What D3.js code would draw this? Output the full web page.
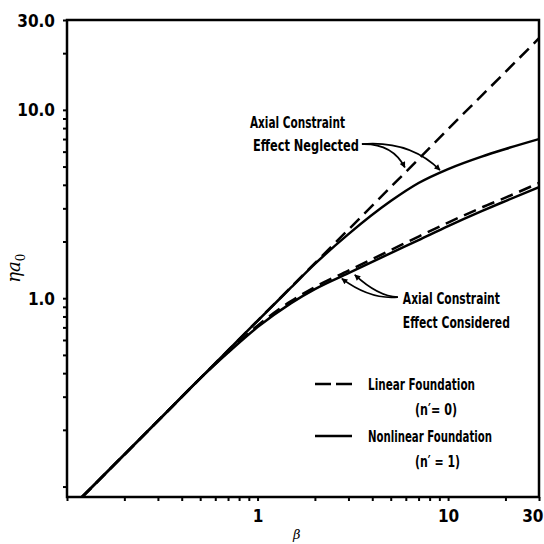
<!DOCTYPE html>
<html>
<head>
<meta charset="utf-8">
<script src="https://cdn.jsdelivr.net/npm/d3@7"></script>
<style>
  html, body { margin: 0; padding: 0; background: #fff; }
  svg { display: block; }
  .lbl { font-family: "Liberation Sans Narrow", "DejaVu Sans Condensed", "Roboto Condensed", sans-serif; font-weight: bold; fill: #000; }
</style>
</head>
<body>
<svg id="chart" width="544" height="544"></svg>
<script>
// ---- data ----
const beta = [0.12, 0.3, 0.5, 0.7, 1, 1.5, 2, 3, 5, 7, 10, 15, 20, 30];
const linearNeglected     = [0.088, 0.223, 0.375, 0.528, 0.759, 1.146, 1.535, 2.314, 3.89, 5.48, 7.91, 11.9, 15.9, 24.0];
const nonlinearNeglected  = [0.088, 0.223, 0.375, 0.528, 0.759, 1.14, 1.52, 2.19, 3.28, 4.09, 4.85, 5.65, 6.2, 7.0];
const linearConsidered    = [0.088, 0.223, 0.375, 0.518, 0.715, 0.965, 1.146, 1.402, 1.80, 2.125, 2.52, 3.03, 3.42, 4.09];
const nonlinearConsidered = [0.088, 0.223, 0.375, 0.514, 0.702, 0.942, 1.118, 1.36, 1.736, 2.035, 2.415, 2.90, 3.28, 3.89];

const xTickValues = [0.1,0.2,0.3,0.4,0.5,0.6,0.7,0.8,0.9,1,2,3,4,5,6,7,8,9,10,20,30];
const xTickLabels = {1: "1", 10: "10", 30: "30"};
const yTickValues = [0.1,0.2,0.3,0.4,0.5,0.6,0.7,0.8,0.9,1,2,3,4,5,6,7,8,9,10,20,30];
const yTickLabels = {1: "1.0", 10: "10.0", 30: "30.0"};

const xDomain = [0.1, 30];
const yDomain = [0.088, 30];

const legendItems = [
  {label: "Linear Foundation", sub: "(n\u2032= 0)", dashed: true},
  {label: "Nonlinear Foundation", sub: "(n\u2032 = 1)", dashed: false}
];

// ---- layout ----
const svg = d3.select("#chart");
const m = {left: 67, top: 20, right: 5, bottom: 47};
const W = 544, H = 544;
const x = d3.scaleLog().domain(xDomain).range([m.left, W - m.right]);
const y = d3.scaleLog().domain(yDomain).range([H - m.bottom, m.top]);

svg.append("rect").attr("width", W).attr("height", H).attr("fill", "#fff");

const defs = svg.append("defs");
defs.append("clipPath").attr("id", "plotclip")
  .append("rect").attr("x", m.left).attr("y", m.top)
  .attr("width", W - m.left - m.right).attr("height", H - m.top - m.bottom);
defs.append("marker").attr("id", "arrow").attr("viewBox", "0 0 10 10")
  .attr("refX", 9).attr("refY", 5).attr("markerWidth", 9).attr("markerHeight", 6)
  .attr("markerUnits", "userSpaceOnUse").attr("orient", "auto")
  .append("path").attr("d", "M0,0 L10,5 L0,10 Z").attr("fill", "#000");

// ---- axes ----
const fontStack = '"Liberation Sans Narrow", "DejaVu Sans Condensed", sans-serif';
const yAxis = d3.axisLeft(y).tickValues(yTickValues).tickSize(4).tickPadding(8)
  .tickFormat(d => yTickLabels[d] || "");
const gy = svg.append("g").attr("transform", `translate(${m.left},0)`).call(yAxis);
gy.select(".domain").remove();
gy.selectAll(".tick line").attr("stroke", "#000").attr("stroke-width", 2);
gy.selectAll(".tick text").style("font-family", fontStack)
  .style("font-weight", "bold").style("font-size", "17px").attr("dy", "0.36em");

const xAxis = d3.axisBottom(x).tickValues(xTickValues).tickSize(4).tickPadding(9)
  .tickFormat(d => xTickLabels[d] || "");
const gx = svg.append("g").attr("transform", `translate(0,${H - m.bottom})`).call(xAxis);
gx.select(".domain").remove();
gx.selectAll(".tick line").attr("stroke", "#000").attr("stroke-width", 2);
gx.selectAll(".tick text").style("font-family", fontStack)
  .style("font-weight", "bold").style("font-size", "17px");
// keep the last label inside the page
gx.selectAll(".tick text").filter(d => d === xDomain[1])
  .attr("text-anchor", "end").attr("dx", 4);

// frame
svg.append("rect").attr("x", m.left).attr("y", m.top)
  .attr("width", W - m.left - m.right).attr("height", H - m.top - m.bottom)
  .attr("fill", "none").attr("stroke", "#000").attr("stroke-width", 2.5);

// axis titles
svg.append("text").attr("x", (x(1) + x(10)) / 2 - 56).attr("y", 539)
  .attr("text-anchor", "middle").style("font-family", "DejaVu Serif, serif")
  .style("font-style", "italic").style("font-size", "13px").text("\u03B2");

const yt = svg.append("text").attr("transform", `translate(20,${y(1) - 30}) rotate(-90)`)
  .attr("text-anchor", "middle").style("font-family", "DejaVu Serif, serif")
  .style("font-style", "italic").style("font-size", "18px");
yt.append("tspan").text("\u03B7a");
yt.append("tspan").attr("dy", 5).style("font-size", "12px").style("font-style", "normal").text("0");

// ---- curves ----
const line = d3.line().x(d => x(d[0])).y(d => y(d[1])).curve(d3.curveMonotoneX);
const series = [
  {v: linearNeglected, dashed: true},
  {v: nonlinearNeglected, dashed: false},
  {v: linearConsidered, dashed: true},
  {v: nonlinearConsidered, dashed: false}
];
const gl = svg.append("g").attr("clip-path", "url(#plotclip)");
series.forEach(s => {
  gl.append("path").datum(beta.map((b, i) => [b, s.v[i]]))
    .attr("d", line).attr("fill", "none").attr("stroke", "#000")
    .attr("stroke-width", 2.5)
    .attr("stroke-dasharray", s.dashed ? "13,7" : null);
});

// ---- annotations (anchored in data space) ----
function txt(bx, ey, str, len) {
  svg.append("text").attr("class", "lbl").attr("x", x(bx)).attr("y", y(ey))
    .attr("textLength", len).attr("lengthAdjust", "spacingAndGlyphs")
    .style("font-size", "15px").text(str);
}
txt(0.912, 8.01, "Axial Constraint", 95);
txt(0.946, 6.04, "Effect Neglected", 106);
txt(5.79, 0.931, "Axial Constraint", 97);
txt(5.79, 0.694, "Effect Considered", 107);

function arrow(from, ctrl, to) {
  const p = d3.path();
  p.moveTo(x(from[0]), y(from[1]));
  p.quadraticCurveTo(x(ctrl[0]), y(ctrl[1]), x(to[0]), y(to[1]));
  svg.append("path").attr("d", p.toString()).attr("fill", "none")
    .attr("stroke", "#000").attr("stroke-width", 1.8).attr("marker-end", "url(#arrow)");
}
arrow([3.53, 6.58], [5.1, 6.65], [5.93, 4.95]);
arrow([3.53, 6.58], [6.3, 6.9], [9.06, 4.79]);
arrow([5.45, 1.014], [3.9, 0.98], [2.77, 1.27]);
arrow([5.45, 1.014], [4.3, 1.02], [3.24, 1.33]);

// ---- legend ----
const lg = svg.append("g");
const rowY = [384, 436];
legendItems.forEach((it, i) => {
  lg.append("line").attr("x1", 315).attr("x2", 352).attr("y1", rowY[i]).attr("y2", rowY[i])
    .attr("stroke", "#000").attr("stroke-width", 2.5)
    .attr("stroke-dasharray", it.dashed ? "16,5" : null);
  lg.append("text").attr("class", "lbl").attr("x", 368).attr("y", rowY[i] + 6)
    .attr("textLength", it.dashed ? 107 : 124).attr("lengthAdjust", "spacingAndGlyphs")
    .style("font-size", "15px").text(it.label);
  lg.append("text").attr("class", "lbl").attr("x", 415).attr("y", rowY[i] + 31)
    .attr("textLength", it.dashed ? 42 : 45).attr("lengthAdjust", "spacingAndGlyphs")
    .style("font-size", "15px").text(it.sub);
});
</script>
</body>
</html>
